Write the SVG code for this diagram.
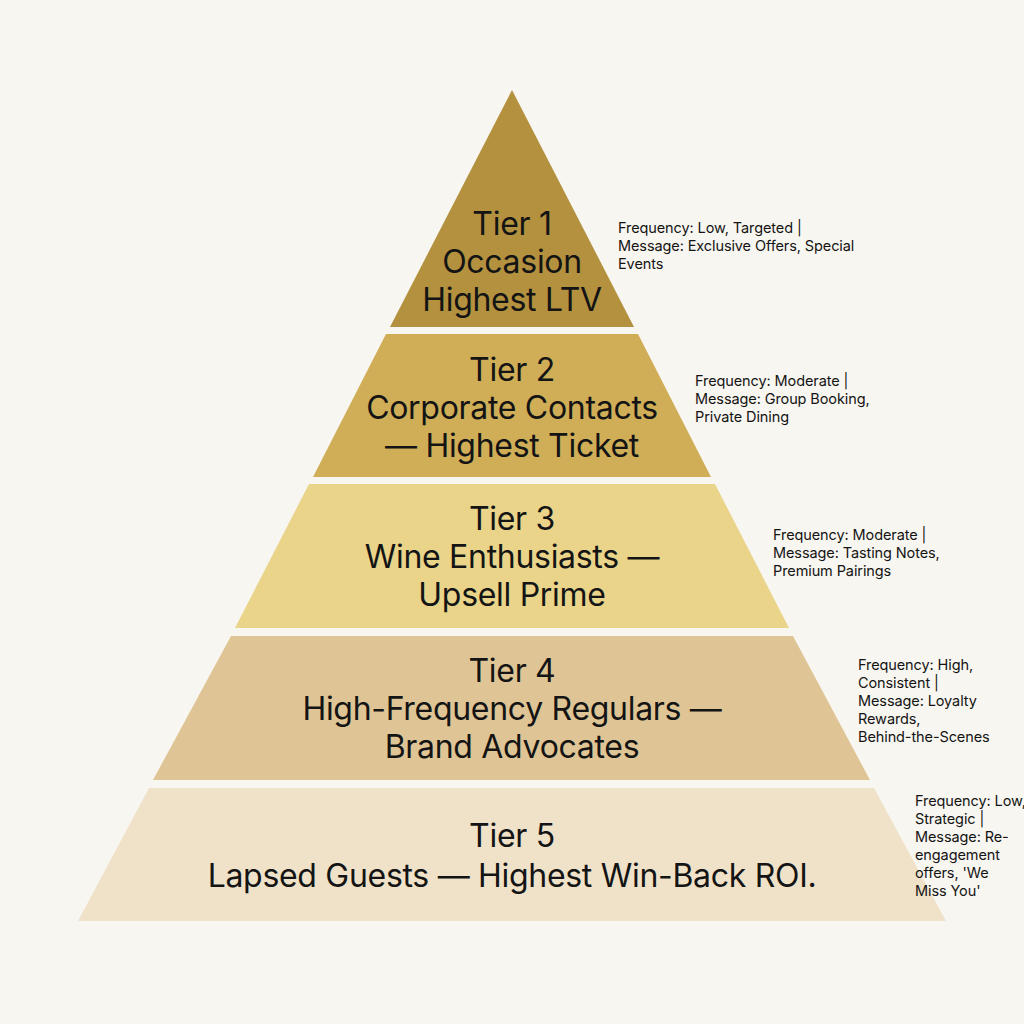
<svg xmlns="http://www.w3.org/2000/svg" width="1024" height="1024" viewBox="0 0 1024 1024">
<style>
.t{font-family:Inter,"Liberation Sans",sans-serif;font-size:32px;letter-spacing:-0.3px;fill:#141414;text-anchor:middle}
.n{font-family:Inter,"Liberation Sans",sans-serif;font-size:14.5px;letter-spacing:-0.1px;fill:#141414}
</style>
<rect width="1024" height="1024" fill="#F8F6F0"/>
<g id="tier1"><polygon points="512,90 634,327 390,327" fill="#B3913F"/>
<text class="t" x="512" y="235">Tier 1</text><text class="t" x="512" y="273">Occasion</text><text class="t" x="512" y="311">Highest LTV</text></g>
<g id="tier2"><polygon points="386,334 638,334 711,477 313,477" fill="#CFAE57"/>
<text class="t" x="512" y="381">Tier 2</text><text class="t" x="512" y="419">Corporate Contacts</text><text class="t" x="512" y="457">— Highest Ticket</text></g>
<g id="tier3"><polygon points="309,484 715,484 789,628 235,628" fill="#E9D48A"/>
<text class="t" x="512" y="530">Tier 3</text><text class="t" x="512" y="568">Wine Enthusiasts —</text><text class="t" x="512" y="606">Upsell Prime</text></g>
<g id="tier4"><polygon points="231,636 793,636 870,780 153,780" fill="#DFC595"/>
<text class="t" x="512" y="682">Tier 4</text><text class="t" x="512" y="720">High-Frequency Regulars —</text><text class="t" x="512" y="758">Brand Advocates</text></g>
<g id="tier5"><polygon points="149,788 874,788 946,921 78,921" fill="#EFE2C8"/>
<text class="t" x="512" y="847">Tier 5</text><text class="t" x="512" y="887">Lapsed Guests — Highest Win-Back ROI.</text></g>
<g id="notes">
<text class="n" x="618" y="233">Frequency: Low, Targeted |</text><text class="n" x="618" y="251">Message: Exclusive Offers, Special</text><text class="n" x="618" y="269">Events</text>
<text class="n" x="695" y="386">Frequency: Moderate |</text><text class="n" x="695" y="404">Message: Group Booking,</text><text class="n" x="695" y="422">Private Dining</text>
<text class="n" x="773" y="540">Frequency: Moderate |</text><text class="n" x="773" y="558">Message: Tasting Notes,</text><text class="n" x="773" y="576">Premium Pairings</text>
<text class="n" x="858" y="670">Frequency: High,</text><text class="n" x="858" y="688">Consistent |</text><text class="n" x="858" y="706">Message: Loyalty</text><text class="n" x="858" y="724">Rewards,</text><text class="n" x="858" y="742">Behind-the-Scenes</text>
<text class="n" x="915" y="806">Frequency: Low,</text><text class="n" x="915" y="824">Strategic |</text><text class="n" x="915" y="842">Message: Re-</text><text class="n" x="915" y="860">engagement</text><text class="n" x="915" y="878"> offers, 'We</text><text class="n" x="915" y="896">Miss You'</text>
</g>
</svg>
